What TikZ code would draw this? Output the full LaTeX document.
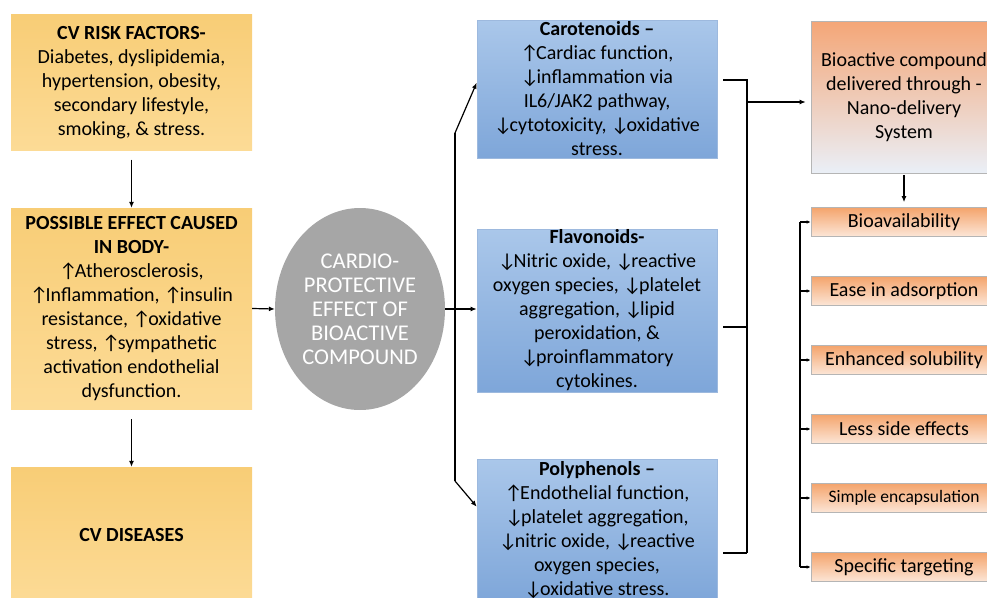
\documentclass[tikz,border=0pt]{standalone}
\usepackage{fontspec}
\setmainfont{Carlito}
\usetikzlibrary{arrows.meta,shapes.geometric}
\definecolor{yTop}{HTML}{F8CD76}
\definecolor{yBot}{HTML}{FCDB96}
\definecolor{bTop}{HTML}{AAC7EA}
\definecolor{bBot}{HTML}{7EA6D9}
\definecolor{bEdge}{HTML}{9DB9DE}
\definecolor{gEll}{HTML}{A6A6A6}
\definecolor{oTop}{HTML}{F4A677}
\definecolor{oBot}{HTML}{EAEFF7}
\definecolor{sTop}{HTML}{F4A46C}
\definecolor{sBot}{HTML}{FCE6D7}
\definecolor{edgeG}{HTML}{B5B5B5}
\newcommand\ua{↑\kern-2.5pt}
\newcommand\da{↓\kern-2.5pt}
\begin{document}
\begin{tikzpicture}[x=1pt,y=-1pt,
  font=\fontsize{20}{24}\selectfont,
  ybox/.style={rectangle, inner sep=0pt, align=center, top color=yTop, bottom color=yBot},
  bbox/.style={rectangle, inner sep=0pt, align=center, top color=bTop, bottom color=bBot, draw=bEdge, line width=0.6pt, minimum width=240pt},
  nbox/.style={rectangle, inner sep=0pt, align=center, top color=oTop, bottom color=oBot, draw=edgeG, line width=0.6pt},
  sbox/.style={rectangle, inner sep=0pt, align=center, top color=sTop, bottom color=sBot, draw=edgeG, line width=0.6pt, minimum width=186pt, minimum height=29pt},
  arr/.style={-{Latex[length=6pt,width=5pt]}, line width=1.2pt},
  sarr/.style={-{Latex[length=4pt,width=3.5pt]}, line width=1.2pt},
  ln/.style={line width=1.2pt},
]
\useasboundingbox (0,0) rectangle (987,597);

% left column
\node[ybox, minimum width=241pt, minimum height=136pt] (risk) at (131.5,82.5)
  {\textbf{CV RISK FACTORS-}\\Diabetes, dyslipidemia,\\hypertension, obesity,\\secondary lifestyle,\\smoking, \& stress.};
\node[ybox, minimum width=241pt, minimum height=201pt] (effect) at (131.5,308.5)
  {\textbf{POSSIBLE EFFECT CAUSED}\\\textbf{IN BODY-}\\\ua Atherosclerosis,\\\ua Inflammation, \ua insulin\\resistance, \ua oxidative\\stress, \ua sympathetic\\activation endothelial\\dysfunction.};
\node[ybox, minimum width=241pt, minimum height=136pt] (cvd) at (131.5,535)
  {\textbf{CV DISEASES}};

% ellipse
\node[ellipse, fill=gEll, inner sep=0pt, minimum width=170pt, minimum height=202pt, text=white, align=center,
  font=\fontsize{22.5}{24}\selectfont] (cpe) at (360,309)
  {CARDIO-\\PROTECTIVE\\EFFECT OF\\BIOACTIVE\\COMPOUND};

% blue boxes
\node[bbox, minimum height=138pt] (caro) at (597,89)
  {\textbf{Carotenoids –}\\\ua Cardiac function,\\\da inflammation via\\IL6/JAK2 pathway,\\\da cytotoxicity, \da oxidative\\stress.};
\node[bbox, minimum height=163pt] (flav) at (597,310.5)
  {\textbf{Flavonoids-}\\\da Nitric oxide, \da reactive\\oxygen species, \da platelet\\aggregation, \da lipid\\peroxidation, \&\\\da proinflammatory\\cytokines.};
\node[bbox, minimum height=143pt] (poly) at (597,530.5)
  {\textbf{Polyphenols –}\\\ua Endothelial function,\\\da platelet aggregation,\\\da nitric oxide, \da reactive\\oxygen species,\\\da oxidative stress.};

% nano box
\node[nbox, minimum width=186pt, minimum height=152pt] (nano) at (904,97)
  {Bioactive compound\\delivered through -\\Nano-delivery\\System};

% small boxes
\node[sbox] (s1) at (904,222) {Bioavailability};
\node[sbox] (s2) at (904,291) {Ease in adsorption};
\node[sbox] (s3) at (904,360) {Enhanced solubility};
\node[sbox] (s4) at (904,429) {Less side effects};
\node[sbox, font=\fontsize{17.5}{21}\selectfont] (s5) at (904,498) {Simple encapsulation};
\node[sbox] (s6) at (904,567) {Specific targeting};

% left column arrows
\draw[arr] ([yshift=-9pt]risk.south) -- (effect.north);
\draw[arr] ([yshift=-10pt]effect.south) -- (cvd.north);
\draw[arr] (effect.east) -- (cpe.west);

% branch from ellipse
\coordinate (jm) at (455,309);
\coordinate (jt) at (455,133);
\coordinate (jb) at (455,481);
\draw[ln] (cpe.east) -- (jm);
\draw[arr] (jm) -- (jm -| flav.west);
\draw[ln] (jt) -- (jb);
\draw[arr] (jt) -- ([yshift=-63pt]caro.north west);
\draw[arr] (jb) -- ([yshift=-48pt]poly.north west);

% right bracket
\coordinate (rt) at (747,80);
\coordinate (rm) at (747,327);
\coordinate (rb) at (747,553);
\coordinate (ra) at (747,102);
\draw[ln] (caro.east |- rt) ++(6,0) -- (rt) -- (rb);
\draw[ln] (flav.east |- rm) ++(6,0) -- (rm);
\draw[ln] (poly.east |- rb) ++(6,0) -- (rb);
\draw[arr] (ra) -- ([xshift=-5pt]nano.west |- ra);

% nano to list
\draw[arr] ([yshift=-2pt]nano.south) -- ([yshift=5pt]s1.north);
\coordinate (lt) at (800,222);
\coordinate (lb) at (800,567);
\draw[ln] (lt) -- (lb);
\foreach \s in {s1,s2,s3,s4,s5,s6}{
  \draw[sarr] (\s.west -| lt) -- (\s.west);
}
\end{tikzpicture}
\end{document}
